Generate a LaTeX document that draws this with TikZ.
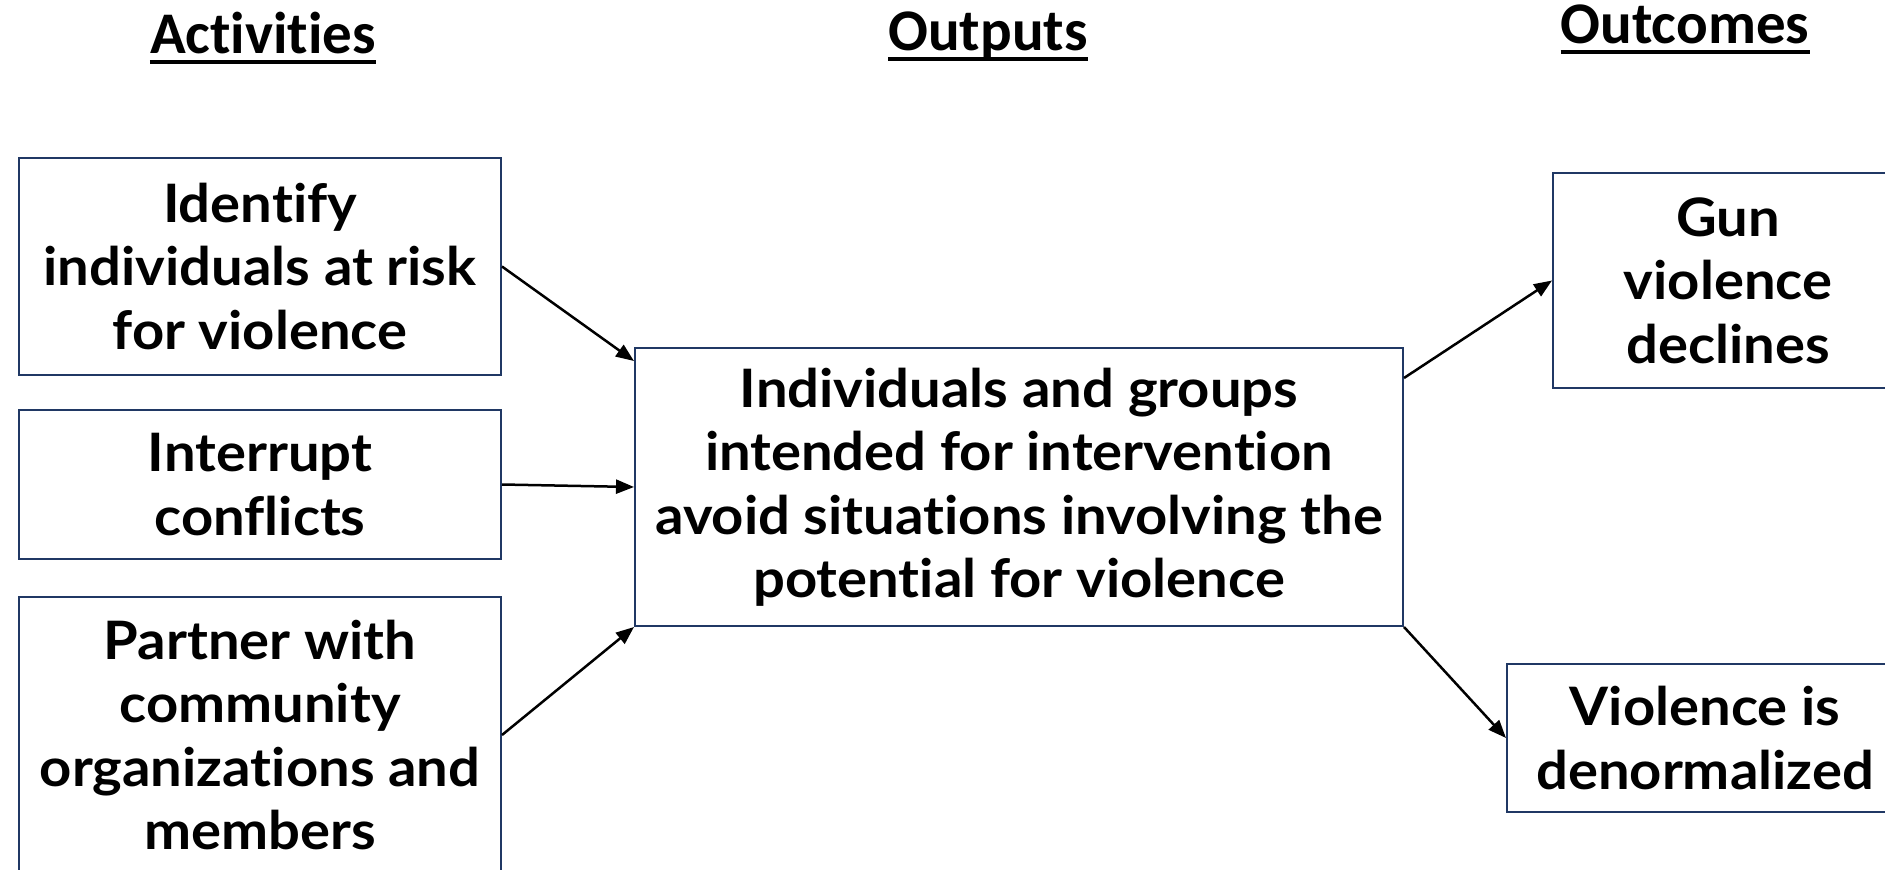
\documentclass[tikz,border=0pt]{standalone}
\usepackage{fontspec}
\newfontfamily\bodyfont{Lato}[Ligatures=NoCommon, FakeStretch=1.06]
\newfontfamily\hdrfont{Carlito}[Ligatures=NoCommon]
\usetikzlibrary{arrows.meta,calc}
\definecolor{boxblue}{RGB}{32,56,100}
\begin{document}
\begin{tikzpicture}[x=1pt,y=-1pt,
 boxnode/.style={draw=boxblue, line width=2pt, inner sep=0pt, align=center,
   font=\bodyfont\bfseries\fontsize{53}{63.5}\selectfont},
 hdr/.style={inner sep=0pt, anchor=base, font=\hdrfont\bfseries\fontsize{59}{70}\selectfont},
 conn/.style={line width=2.5pt, -{Triangle[length=18pt,width=14pt]}},
 uline/.style={line width=4pt}]
\useasboundingbox (0,0) rectangle (1885,870);
\clip (0,0) rectangle (1885,870);
\fill[white] (0,0) rectangle (1885,870);
% headers
\node[hdr] (h1) at (263,53) {Activities};
\node[hdr] (h2) at (988,50) {Outputs};
\node[hdr] (h3) at (1685,43) {Outcomes};
\draw[uline] ($(h1.base west)+(0,9)$) -- ($(h1.base east)+(0,9)$);
\draw[uline] ($(h2.base west)+(0,9)$) -- ($(h2.base east)+(0,9)$);
\draw[uline] ($(h3.base west)+(0,9)$) -- ($(h3.base east)+(0,9)$);
% activities
\node[boxnode, minimum width=482pt, minimum height=217pt] (b1) at (260,266.5) {Identify\\individuals at risk\\for violence};
\node[boxnode, minimum width=482pt, minimum height=149pt] (b2) at (260,484.5) {Interrupt\\conflicts};
\node[boxnode, minimum width=482pt, minimum height=276pt] (b3) at (260,735) {Partner with\\community\\organizations and\\members};
% output
\node[boxnode, minimum width=768pt, minimum height=278pt] (mid) at (1019,487) {Individuals and groups\\intended for intervention\\avoid situations involving the\\potential for violence};
% outcomes
\node[boxnode, minimum width=350pt, minimum height=215pt] (gun) at (1728,280.5) {Gun\\violence\\declines};
\node[boxnode, minimum width=396pt, minimum height=148pt] (vio) at (1705,738) {Violence is\\denormalized};
% connectors
\draw[conn] (b1.east) -- ($(mid.north west)+(0,14)$);
\draw[conn] (b2.east) -- (mid.west);
\draw[conn] (b3.east) -- (mid.south west);
\draw[conn] ($(mid.north east)+(0,31)$) -- (gun.west);
\draw[conn] (mid.south east) -- (vio.west);
\end{tikzpicture}
\end{document}
